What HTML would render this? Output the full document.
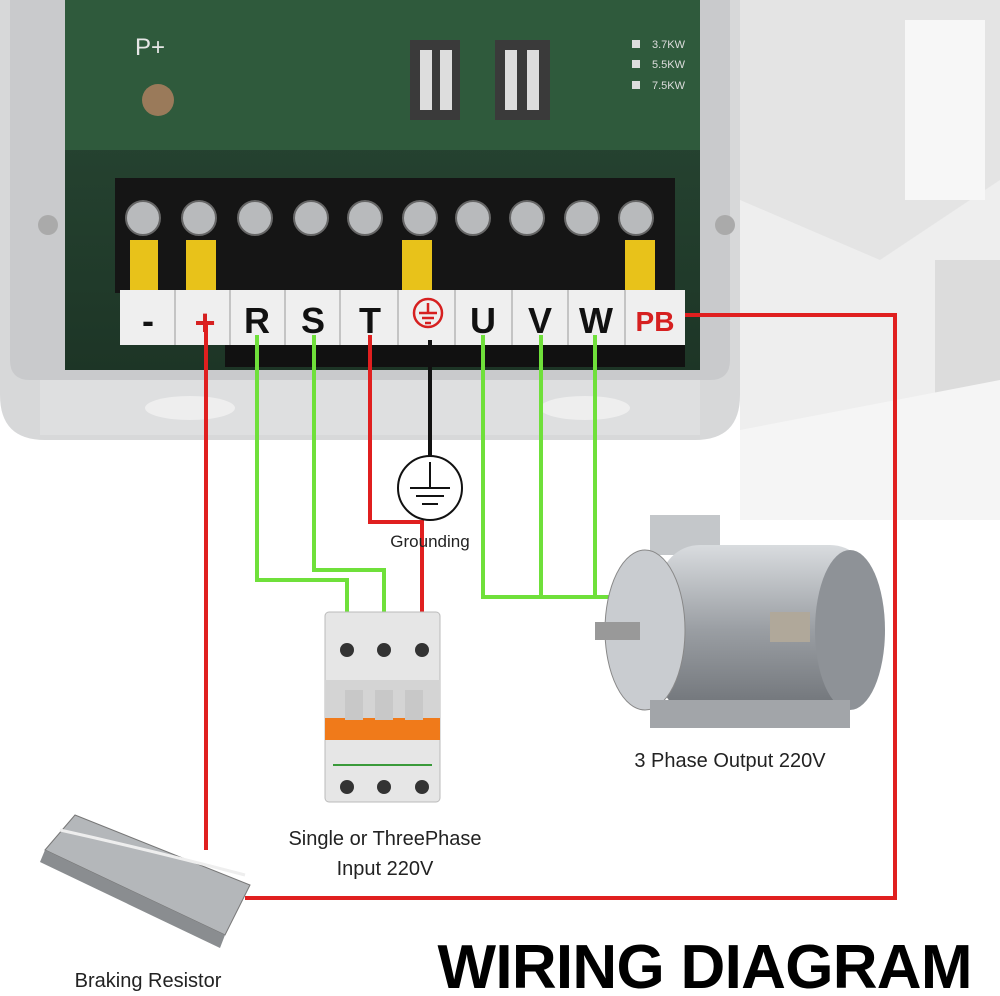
<!DOCTYPE html>
<html><head><meta charset="utf-8"><style>
html,body{margin:0;padding:0;background:#fff}
svg{display:block}
text{font-family:"Liberation Sans",sans-serif}
</style></head><body>
<svg width="1000" height="996" viewBox="0 0 1000 996" xmlns="http://www.w3.org/2000/svg">
<defs>
<linearGradient id="bg" x1="0" y1="0" x2="1" y2="1"><stop offset="0" stop-color="#f4f4f4"/><stop offset="1" stop-color="#ffffff"/></linearGradient>
<linearGradient id="pcb" x1="0" y1="0" x2="0" y2="1"><stop offset="0" stop-color="#2a4a36"/><stop offset="1" stop-color="#1d3526"/></linearGradient>
<linearGradient id="mot" x1="0" y1="0" x2="0" y2="1"><stop offset="0" stop-color="#d9dcdf"/><stop offset=".5" stop-color="#9a9ea3"/><stop offset="1" stop-color="#6d7176"/></linearGradient>
</defs>
<rect width="1000" height="996" fill="#fff"/>
<!-- right background geometry -->
<rect x="740" y="0" width="260" height="520" fill="#eeeeee"/>
<polygon points="740,0 1000,0 1000,180 880,260 740,200" fill="#e4e4e4"/>
<rect x="905" y="20" width="80" height="180" fill="#f7f7f7"/>
<rect x="935" y="260" width="65" height="170" fill="#dcdcdc"/>
<polygon points="740,430 1000,380 1000,520 740,520" fill="#f5f5f5"/>
<!-- enclosure -->
<path d="M0,0 H740 V395 Q740,440 695,440 H45 Q0,440 0,395 Z" fill="#d7d8d9"/>
<path d="M10,0 H730 V360 Q730,380 710,380 H30 Q10,380 10,360 Z" fill="#c9cacc"/>
<rect x="40" y="380" width="660" height="55" fill="#dedfe0"/>
<ellipse cx="190" cy="408" rx="45" ry="12" fill="#eeeeee"/>
<ellipse cx="585" cy="408" rx="45" ry="12" fill="#eeeeee"/>
<!-- PCB -->
<rect x="65" y="0" width="635" height="370" fill="url(#pcb)"/>
<rect x="65" y="0" width="635" height="150" fill="#2f5a3c"/>
<text x="135" y="55" font-size="24" fill="#e6e6e6" font-family="Liberation Serif">P+</text>
<circle cx="158" cy="100" r="16" fill="#9a7a5a"/>
<rect x="410" y="40" width="50" height="80" fill="#3a3a3a"/><rect x="420" y="50" width="12" height="60" fill="#ddd"/><rect x="440" y="50" width="12" height="60" fill="#ddd"/>
<rect x="495" y="40" width="55" height="80" fill="#3a3a3a"/><rect x="505" y="50" width="12" height="60" fill="#ddd"/><rect x="527" y="50" width="12" height="60" fill="#ddd"/>
<rect x="632" y="40" width="8" height="8" fill="#ddd"/><text x="652" y="48" font-size="11" fill="#ddd">3.7KW</text>
<rect x="632" y="60" width="8" height="8" fill="#ddd"/><text x="652" y="68" font-size="11" fill="#ddd">5.5KW</text>
<rect x="632" y="81" width="8" height="8" fill="#ddd"/><text x="652" y="89" font-size="11" fill="#ddd">7.5KW</text>
<circle cx="48" cy="225" r="10" fill="#aaa"/><circle cx="725" cy="225" r="10" fill="#aaa"/>
<!-- terminal block -->
<rect x="115" y="178" width="560" height="115" fill="#151515"/>
<g fill="#b8babc" stroke="#666" stroke-width="2">
<circle cx="143" cy="218" r="17"/><circle cx="199" cy="218" r="17"/><circle cx="255" cy="218" r="17"/><circle cx="311" cy="218" r="17"/><circle cx="365" cy="218" r="17"/><circle cx="420" cy="218" r="17"/><circle cx="473" cy="218" r="17"/><circle cx="527" cy="218" r="17"/><circle cx="582" cy="218" r="17"/><circle cx="636" cy="218" r="17"/>
</g>
<g fill="#e8c21a"><rect x="130" y="240" width="28" height="55"/><rect x="186" y="240" width="30" height="55"/><rect x="402" y="240" width="30" height="95"/><rect x="625" y="240" width="30" height="55"/></g>
<!-- label strip -->
<rect x="120" y="290" width="565" height="55" fill="#efefef"/>
<g stroke="#999" stroke-width="1"><line x1="175" y1="290" x2="175" y2="345"/><line x1="230" y1="290" x2="230" y2="345"/><line x1="285" y1="290" x2="285" y2="345"/><line x1="340" y1="290" x2="340" y2="345"/><line x1="398" y1="290" x2="398" y2="345"/><line x1="455" y1="290" x2="455" y2="345"/><line x1="512" y1="290" x2="512" y2="345"/><line x1="568" y1="290" x2="568" y2="345"/><line x1="625" y1="290" x2="625" y2="345"/></g>
<rect x="225" y="345" width="460" height="22" fill="#111"/>
<g font-size="36" font-weight="bold" text-anchor="middle">
<text x="148" y="333" fill="#111">-</text>
<text x="205" y="335" fill="#d62020">+</text>
<text x="257" y="333" fill="#111">R</text>
<text x="313" y="333" fill="#111">S</text>
<text x="370" y="333" fill="#111">T</text>
<text x="483" y="333" fill="#111">U</text>
<text x="540" y="333" fill="#111">V</text>
<text x="596" y="333" fill="#111">W</text>
<text x="655" y="331" fill="#d62020" font-size="28">PB</text>
</g>
<circle cx="428" cy="313" r="14" fill="none" stroke="#d62020" stroke-width="2.5"/>
<g stroke="#d62020" stroke-width="2.5"><line x1="428" y1="303" x2="428" y2="313"/><line x1="419" y1="313" x2="437" y2="313"/><line x1="422" y1="318" x2="434" y2="318"/><line x1="425" y1="323" x2="431" y2="323"/></g>
<!-- wires -->
<g fill="none" stroke-width="4" stroke-linejoin="miter">
<polyline points="685,315 895,315 895,898 245,898" stroke="#e01f1f"/>
<polyline points="206,322 206,850" stroke="#e01f1f"/>
<polyline points="370,335 370,522 422,522 422,642" stroke="#e01f1f"/>
<polyline points="257,335 257,580 347,580 347,642" stroke="#6fe03a"/>
<polyline points="314,335 314,570 384,570 384,642" stroke="#6fe03a"/>
<polyline points="483,335 483,597 612,597" stroke="#6fe03a"/>
<line x1="541" y1="335" x2="541" y2="597" stroke="#6fe03a"/>
<line x1="595" y1="335" x2="595" y2="597" stroke="#6fe03a"/>
<line x1="430" y1="340" x2="430" y2="465" stroke="#111"/>
</g>
<!-- ground symbol -->
<circle cx="430" cy="488" r="32" fill="#fff" stroke="#111" stroke-width="2"/>
<g stroke="#111" stroke-width="2"><line x1="430" y1="462" x2="430" y2="488"/><line x1="410" y1="488" x2="450" y2="488"/><line x1="416" y1="496" x2="444" y2="496"/><line x1="422" y1="504" x2="438" y2="504"/></g>
<text x="430" y="547" font-size="17" text-anchor="middle" fill="#222">Grounding</text>
<!-- breaker -->
<rect x="325" y="612" width="115" height="190" rx="4" fill="#e6e6e6" stroke="#bbb"/>
<rect x="325" y="680" width="115" height="40" fill="#d4d4d4"/>
<rect x="325" y="718" width="115" height="22" fill="#f07a1a"/>
<rect x="345" y="690" width="18" height="30" fill="#c8c8c8"/><rect x="375" y="690" width="18" height="30" fill="#c8c8c8"/><rect x="405" y="690" width="18" height="30" fill="#c8c8c8"/>
<line x1="333" y1="765" x2="432" y2="765" stroke="#3a9a3a" stroke-width="2"/>
<g fill="#333"><circle cx="347" cy="650" r="7"/><circle cx="384" cy="650" r="7"/><circle cx="422" cy="650" r="7"/><circle cx="347" cy="787" r="7"/><circle cx="384" cy="787" r="7"/><circle cx="422" cy="787" r="7"/></g>
<text x="385" y="845" font-size="20" text-anchor="middle" fill="#222">Single or ThreePhase</text>
<text x="385" y="875" font-size="20" text-anchor="middle" fill="#222">Input 220V</text>
<!-- motor -->
<rect x="650" y="515" width="70" height="40" fill="#c4c7ca"/>
<rect x="660" y="545" width="210" height="170" rx="40" fill="url(#mot)"/>
<ellipse cx="645" cy="630" rx="40" ry="80" fill="#c9ccd0" stroke="#888"/>
<rect x="595" y="622" width="45" height="18" fill="#999"/>
<ellipse cx="850" cy="630" rx="35" ry="80" fill="#8e9297"/>
<rect x="770" y="612" width="40" height="30" fill="#b0a89a"/>
<rect x="650" y="700" width="200" height="28" fill="#a2a5a9"/>
<text x="730" y="767" font-size="20" text-anchor="middle" fill="#222">3 Phase Output 220V</text>
<!-- braking resistor -->
<polygon points="45,850 75,815 250,885 225,935" fill="#b4b7ba" stroke="#777"/>
<polygon points="45,850 225,935 220,948 40,862" fill="#8a8d90"/>
<path d="M60,830 Q150,850 245,875" stroke="#eee" stroke-width="3" fill="none"/>
<text x="148" y="987" font-size="20" text-anchor="middle" fill="#222">Braking Resistor</text>
<!-- title -->
<text x="705" y="988" font-size="62" font-weight="bold" text-anchor="middle" fill="#000" textLength="535">WIRING DIAGRAM</text>
</svg>
</body></html>
